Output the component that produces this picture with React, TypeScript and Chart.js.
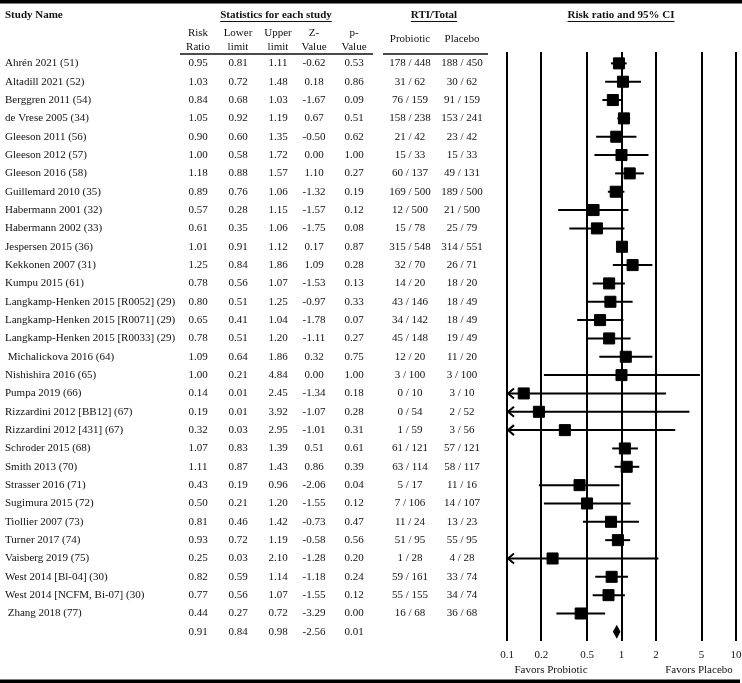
import React, { useEffect, useRef } from 'react';
import { Chart, registerables } from 'chart.js';

Chart.register(...registerables);

const FONT = "'Liberation Serif', 'Times New Roman', serif";

const studyNames = [
  'Ahrén 2021 (51)', 'Altadill 2021 (52)', 'Berggren 2011 (54)', 'de Vrese 2005 (34)',
  'Gleeson 2011 (56)', 'Gleeson 2012 (57)', 'Gleeson 2016 (58)', 'Guillemard 2010 (35)',
  'Habermann 2001 (32)', 'Habermann 2002 (33)', 'Jespersen 2015 (36)', 'Kekkonen 2007 (31)',
  'Kumpu 2015 (61)', 'Langkamp-Henken 2015 [R0052] (29)', 'Langkamp-Henken 2015 [R0071] (29)',
  'Langkamp-Henken 2015 [R0033] (29)', ' Michalickova 2016 (64)', 'Nishishira 2016 (65)',
  'Pumpa 2019 (66)', 'Rizzardini 2012 [BB12] (67)', 'Rizzardini 2012 [431] (67)',
  'Schroder 2015 (68)', 'Smith 2013 (70)', 'Strasser 2016 (71)', 'Sugimura 2015 (72)',
  'Tiollier 2007 (73)', 'Turner 2017 (74)', 'Vaisberg 2019 (75)', 'West 2014 [Bl-04] (30)',
  'West 2014 [NCFM, Bi-07] (30)', ' Zhang 2018 (77)',
];

const riskRatios = [0.95, 1.03, 0.84, 1.05, 0.90, 1.00, 1.18, 0.89, 0.57, 0.61, 1.01, 1.25, 0.78, 0.80, 0.65, 0.78, 1.09, 1.00, 0.14, 0.19, 0.32, 1.07, 1.11, 0.43, 0.50, 0.81, 0.93, 0.25, 0.82, 0.77, 0.44];
const lowerLimits = [0.81, 0.72, 0.68, 0.92, 0.60, 0.58, 0.88, 0.76, 0.28, 0.35, 0.91, 0.84, 0.56, 0.51, 0.41, 0.51, 0.64, 0.21, 0.01, 0.01, 0.03, 0.83, 0.87, 0.19, 0.21, 0.46, 0.72, 0.03, 0.59, 0.56, 0.27];
const upperLimits = [1.11, 1.48, 1.03, 1.19, 1.35, 1.72, 1.57, 1.06, 1.15, 1.06, 1.12, 1.86, 1.07, 1.25, 1.04, 1.20, 1.86, 4.84, 2.45, 3.92, 2.95, 1.39, 1.43, 0.96, 1.20, 1.42, 1.19, 2.10, 1.14, 1.07, 0.72];
const zValues = [-0.62, 0.18, -1.67, 0.67, -0.50, 0.00, 1.10, -1.32, -1.57, -1.75, 0.17, 1.09, -1.53, -0.97, -1.78, -1.11, 0.32, 0.00, -1.34, -1.07, -1.01, 0.51, 0.86, -2.06, -1.55, -0.73, -0.58, -1.28, -1.18, -1.55, -3.29];
const pValues = [0.53, 0.86, 0.09, 0.51, 0.62, 1.00, 0.27, 0.19, 0.12, 0.08, 0.87, 0.28, 0.13, 0.33, 0.07, 0.27, 0.75, 1.00, 0.18, 0.28, 0.31, 0.61, 0.39, 0.04, 0.12, 0.47, 0.56, 0.20, 0.24, 0.12, 0.00];
const probioticEvents = [178, 31, 76, 158, 21, 15, 60, 169, 12, 15, 315, 32, 14, 43, 34, 45, 12, 3, 0, 0, 1, 61, 63, 5, 7, 11, 51, 1, 59, 55, 16];
const probioticTotals = [448, 62, 159, 238, 42, 33, 137, 500, 500, 78, 548, 70, 20, 146, 142, 148, 20, 100, 10, 54, 59, 121, 114, 17, 106, 24, 95, 28, 161, 155, 68];
const placeboEvents = [188, 30, 91, 153, 23, 15, 49, 189, 21, 25, 314, 26, 18, 18, 18, 19, 11, 3, 3, 2, 3, 57, 58, 11, 14, 13, 55, 4, 33, 34, 36];
const placeboTotals = [450, 62, 159, 241, 42, 33, 131, 500, 500, 79, 551, 71, 20, 49, 49, 49, 20, 100, 10, 52, 56, 121, 117, 16, 107, 23, 95, 28, 74, 74, 68];

const summaryRiskRatio = 0.91;
const summaryLower = 0.84;
const summaryUpper = 0.98;
const summaryZ = -2.56;
const summaryP = 0.01;

const tickValues = [0.1, 0.2, 0.5, 1, 2, 5, 10];
const tickLabels = ['0.1', '0.2', '0.5', '1', '2', '5', '10'];

const X_MIN = 0.1;
const X_MAX = 10;

export default function App() {
  const ref = useRef<HTMLCanvasElement>(null);

  useEffect(() => {
    const canvas = ref.current;
    if (!canvas) return;

    const txt = (ctx: CanvasRenderingContext2D, s: string, x: number, y: number, align: CanvasTextAlign, bold = false, underline = false) => {
      ctx.font = `${bold ? 'bold ' : ''}11px ${FONT}`;
      ctx.textAlign = align;
      ctx.textBaseline = 'middle';
      ctx.fillStyle = '#111';
      ctx.fillText(s, x, y);
      if (underline) {
        const w = ctx.measureText(s).width;
        let x0 = x;
        if (align === 'center') x0 = x - w / 2;
        else if (align === 'right') x0 = x - w;
        ctx.strokeStyle = '#111';
        ctx.lineWidth = 1;
        ctx.beginPath();
        ctx.moveTo(x0, y + 6.5);
        ctx.lineTo(x0 + w, y + 6.5);
        ctx.stroke();
      }
    };

    const forestPlugin = {
      id: 'forestPlugin',
      beforeDatasetsDraw(chart: any) {
        const { ctx } = chart;
        const xs = chart.scales.x;
        const ys = chart.scales.y;
        ctx.save();
        ctx.strokeStyle = '#000';
        ctx.lineWidth = 2;
        for (let i = 0; i < riskRatios.length; i++) {
          const y = ys.getPixelForValue(i);
          const lo = Math.max(lowerLimits[i], X_MIN);
          const hi = Math.min(upperLimits[i], X_MAX);
          const x1 = xs.getPixelForValue(lo);
          const x2 = xs.getPixelForValue(hi);
          ctx.beginPath();
          ctx.moveTo(x1, y);
          ctx.lineTo(x2, y);
          ctx.stroke();
          if (lowerLimits[i] < X_MIN) {
            ctx.beginPath();
            ctx.moveTo(x1 + 7, y - 5);
            ctx.lineTo(x1 + 1, y);
            ctx.lineTo(x1 + 7, y + 5);
            ctx.stroke();
          }
        }
        ctx.restore();
      },
      afterDatasetsDraw(chart: any) {
        const { ctx } = chart;
        const xs = chart.scales.x;
        const ys = chart.scales.y;
        const y = ys.getPixelForValue(riskRatios.length);
        const xl = xs.getPixelForValue(summaryLower);
        const xc = xs.getPixelForValue(summaryRiskRatio);
        const xr = xs.getPixelForValue(summaryUpper);
        ctx.save();
        ctx.fillStyle = '#000';
        ctx.beginPath();
        ctx.moveTo(xl, y);
        ctx.lineTo(xc, y - 7);
        ctx.lineTo(xr, y);
        ctx.lineTo(xc, y + 7);
        ctx.closePath();
        ctx.fill();
        ctx.restore();
      },
      afterDraw(chart: any) {
        const { ctx } = chart;
        const ys = chart.scales.y;
        ctx.save();
        // borders
        ctx.fillStyle = '#000';
        ctx.fillRect(0, 0, 742, 3.5);
        ctx.fillRect(0, 679.5, 740, 3.5);

        // headers
        txt(ctx, 'Study Name', 5, 15, 'left', true);
        txt(ctx, 'Statistics for each study', 276, 15, 'center', true, true);
        txt(ctx, 'RTI/Total', 434, 15, 'center', true, true);
        txt(ctx, 'Risk ratio and 95% CI', 621, 15, 'center', true, true);

        const cols = [198, 238, 278, 314, 354];
        const sub1 = ['Risk', 'Lower', 'Upper', 'Z-', 'p-'];
        const sub2 = ['Ratio', 'limit', 'limit', 'Value', 'Value'];
        for (let c = 0; c < cols.length; c++) {
          txt(ctx, sub1[c], cols[c], 33, 'center');
          txt(ctx, sub2[c], cols[c], 47, 'center');
        }
        const probX = 410;
        const placX = 462;
        txt(ctx, 'Probiotic', probX, 39, 'center');
        txt(ctx, 'Placebo', placX, 39, 'center');

        ctx.strokeStyle = '#111';
        ctx.lineWidth = 1.5;
        ctx.beginPath();
        ctx.moveTo(180, 54);
        ctx.lineTo(373, 54);
        ctx.moveTo(383, 54);
        ctx.lineTo(488, 54);
        ctx.stroke();

        for (let i = 0; i < studyNames.length; i++) {
          const y = ys.getPixelForValue(i);
          txt(ctx, studyNames[i], 5, y, 'left');
          const vals = [riskRatios[i], lowerLimits[i], upperLimits[i], zValues[i], pValues[i]];
          vals.forEach((v, c) => txt(ctx, v.toFixed(2), cols[c], y, 'center'));
          txt(ctx, `${probioticEvents[i]} / ${probioticTotals[i]}`, probX, y, 'center');
          txt(ctx, `${placeboEvents[i]} / ${placeboTotals[i]}`, placX, y, 'center');
        }
        const ySum = ys.getPixelForValue(studyNames.length);
        [summaryRiskRatio, summaryLower, summaryUpper, summaryZ, summaryP].forEach((v, c) =>
          txt(ctx, v.toFixed(2), cols[c], ySum, 'center'));

        txt(ctx, 'Favors Probiotic', 551, 670, 'center');
        txt(ctx, 'Favors Placebo', 699, 670, 'center');
        ctx.restore();
      },
    };

    const chart = new Chart(canvas, {
      type: 'scatter',
      data: {
        datasets: [
          {
            label: 'Risk ratio',
            data: riskRatios.map((v, i) => ({ x: v, y: i })),
            pointStyle: 'rect',
            pointRadius: 7.8,
            pointHoverRadius: 7.8,
            backgroundColor: '#000',
            borderColor: '#000',
            borderWidth: 1,
          },
        ],
      },
      options: {
        animation: false,
        responsive: false,
        devicePixelRatio: 1,
        events: [],
        layout: { autoPadding: false, padding: { left: 507, right: 6, top: 52, bottom: 22 } },
        plugins: {
          legend: { display: false },
          tooltip: { enabled: false },
          title: { display: false },
        },
        scales: {
          x: {
            type: 'logarithmic',
            min: X_MIN,
            max: X_MAX,
            afterBuildTicks: (scale: any) => {
              scale.ticks = tickValues.map((v) => ({ value: v }));
            },
            afterFit: (scale: any) => {
              scale.height = 20;
              scale.paddingLeft = 0;
              scale.paddingRight = 0;
            },
            ticks: {
              autoSkip: false,
              maxRotation: 0,
              padding: 8,
              color: '#111',
              font: { family: FONT, size: 11 },
              callback: (value: any) => {
                const idx = tickValues.indexOf(Number(value));
                return idx >= 0 ? tickLabels[idx] : '';
              },
            },
            grid: {
              color: '#000',
              lineWidth: 2,
              drawTicks: false,
            },
            border: { display: false },
          },
          y: {
            type: 'linear',
            display: false,
            reverse: true,
            min: -0.62,
            max: 31.5,
          },
        },
      },
      plugins: [forestPlugin],
    });

    return () => chart.destroy();
  }, []);

  return (
    <div style={{ position: 'absolute', left: 0, top: 0, width: 742, height: 683, background: '#fff' }}>
      <canvas ref={ref} width={742} height={683} style={{ display: 'block', width: 742, height: 683 }} />
    </div>
  );
}
